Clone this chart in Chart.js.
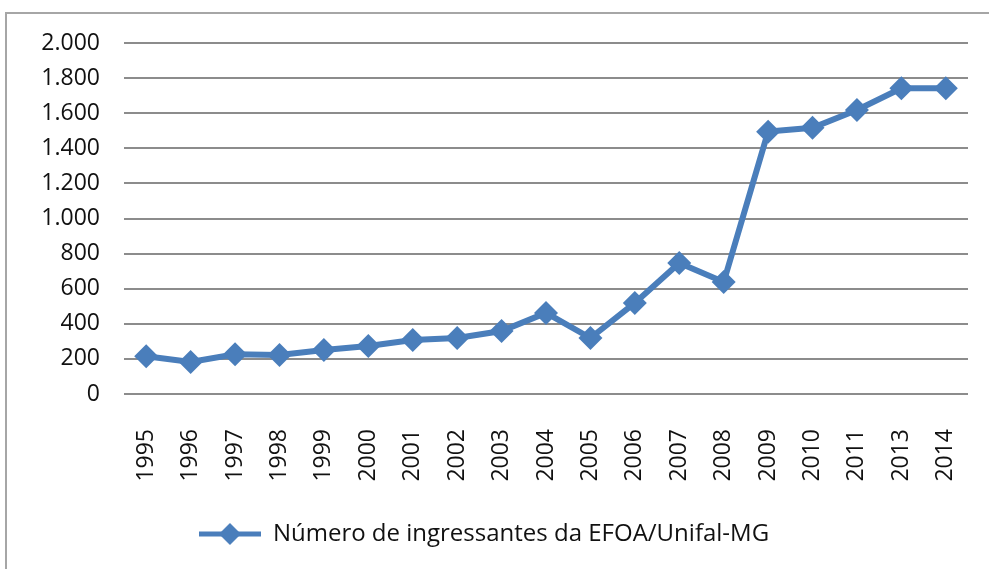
<!DOCTYPE html>
<html lang="pt">
<head>
  <meta charset="UTF-8" />
  <title>Número de ingressantes da EFOA/Unifal-MG</title>
  <style>
    body { margin: 0; background: #fff; overflow: hidden; }
    #wrap { position: relative; width: 989px; height: 569px; }
    #frame { position: absolute; left: 5px; top: 12px; width: 1100px; height: 700px; border: 2px solid #a6a6a6; }
    canvas { position: absolute; left: 0; top: 0; }
  </style>
</head>
<body>
  <div id="wrap">
    <div id="frame"></div>
    <canvas id="chart" width="989" height="569"></canvas>
  </div>

  <script src="https://cdn.jsdelivr.net/npm/chart.js"></script>
  <script>
    const anos = ['1995','1996','1997','1998','1999','2000','2001','2002','2003','2004',
                  '2005','2006','2007','2008','2009','2010','2011','2013','2014'];
    const ingressantes = [215, 182, 226, 222, 251, 274, 308, 319, 359, 462,
                          319, 519, 746, 638, 1495, 1517, 1618, 1742, 1742];
    const serie = 'Número de ingressantes da EFOA/Unifal-MG';
    const azul = '#4a7ebb';

    // marcador da legenda: linha com losango
    const marca = document.createElement('canvas');
    marca.width = 62; marca.height = 24;
    const m = marca.getContext('2d');
    m.strokeStyle = azul; m.lineWidth = 5;
    m.beginPath(); m.moveTo(0, 12); m.lineTo(62, 12); m.stroke();
    m.fillStyle = azul;
    m.beginPath(); m.moveTo(31, 1); m.lineTo(42, 12); m.lineTo(31, 23); m.lineTo(20, 12); m.closePath(); m.fill();

    Chart.defaults.font.family = '"Open Sans", sans-serif';
    Chart.defaults.color = '#111';

    new Chart(document.getElementById('chart'), {
      type: 'line',
      data: {
        labels: anos,
        datasets: [{
          label: serie,
          data: ingressantes,
          borderColor: azul,
          backgroundColor: azul,
          borderWidth: 6,
          tension: 0,
          pointStyle: 'rectRot',
          pointRadius: 12,
          pointBorderWidth: 0,
          pointBackgroundColor: azul
        }]
      },
      options: {
        responsive: false,
        animation: false,
        layout: { padding: { top: 43, right: 21, bottom: 13, left: 0 } },
        plugins: {
          tooltip: { enabled: false },
          legend: {
            position: 'bottom',
            labels: {
              usePointStyle: true,
              pointStyle: marca,
              pointStyleWidth: 62,
              font: { size: 24 },
              padding: 10
            }
          }
        },
        scales: {
          x: {
            offset: true,
            grid: { display: false },
            border: { display: false },
            ticks: { minRotation: 90, maxRotation: 90, padding: 27, font: { size: 23 } },
            afterFit: s => { s.height = 118; s.paddingLeft = 0; s.paddingRight = 0; }
          },
          y: {
            min: 0, max: 2000,
            ticks: {
              stepSize: 200, padding: 24, font: { size: 23 },
              callback: v => v.toLocaleString('de-DE')
            },
            grid: { color: '#8c8c8c', lineWidth: 2, drawTicks: false },
            border: { display: false },
            afterFit: s => { s.width = 124; s.paddingTop = 0; s.paddingBottom = 0; }
          }
        }
      }
    });
  </script>
</body>
</html>
